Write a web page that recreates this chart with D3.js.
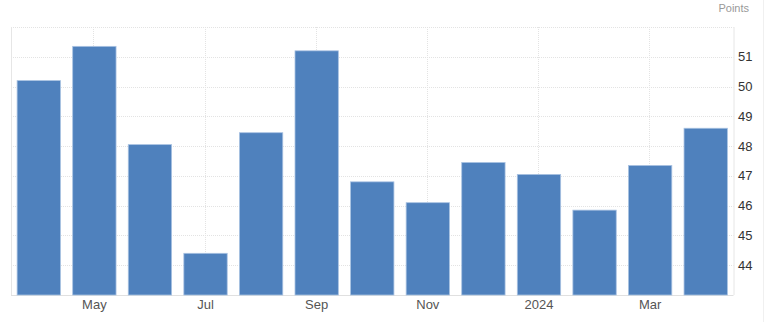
<!DOCTYPE html>
<meta charset="utf-8">
<style>
body { margin: 0; background: #fff; }
svg { font-family: "Liberation Sans", Arial, sans-serif; }
.grid line { stroke: #e3e3e3; stroke-dasharray: 1,1; }
.ylab text { fill: #333; font-size: 13px; }
.xlab text { fill: #555; font-size: 13px; }
</style>
<svg width="768" height="322"></svg>
<script src="https://d3js.org/d3.v7.min.js"></script>
<script>

var months = ["Apr", "May", "Jun", "Jul", "Aug", "Sep", "Oct", "Nov", "Dec", "2024", "Feb", "Mar", "Apr24"];
var values = [50.2, 51.35, 48.05, 44.4, 48.45, 51.2, 46.8, 46.1, 47.45, 47.05, 45.85, 47.35, 48.6];
var xTicks = ["May", "Jul", "Sep", "Nov", "2024", "Mar"];
var yTicks = [44, 45, 46, 47, 48, 49, 50, 51];

var svg = d3.select("svg"),
    plotLeft = 11, plotRight = 733.5, plotTop = 27, plotBottom = 295;

var x = d3.scaleBand()
    .domain(months)
    .range([plotLeft, plotRight])
    .paddingInner(0.22)
    .paddingOuter(0.11);

var y = d3.scaleLinear()
    .domain([43, 52])
    .range([plotBottom, plotTop]);

// grid
var grid = svg.append("g").attr("class", "grid");
grid.selectAll(".h")
  .data(yTicks.concat([52]))
  .enter().append("line")
    .attr("x1", plotLeft).attr("x2", plotRight)
    .attr("y1", function(d) { return Math.round(y(d)) + 0.5; })
    .attr("y2", function(d) { return Math.round(y(d)) + 0.5; });
grid.selectAll(".v")
  .data(xTicks)
  .enter().append("line")
    .attr("x1", function(d) { return Math.round(x(d) + x.bandwidth() / 2) - 0.5; })
    .attr("x2", function(d) { return Math.round(x(d) + x.bandwidth() / 2) - 0.5; })
    .attr("y1", plotTop).attr("y2", plotBottom);

// frame lines
svg.append("line")
    .attr("x1", plotLeft + 0.5).attr("x2", plotLeft + 0.5)
    .attr("y1", plotTop).attr("y2", plotBottom)
    .attr("stroke", "#e6e6e6");
svg.append("line")
    .attr("x1", plotRight + 0.5).attr("x2", plotRight + 0.5)
    .attr("y1", plotTop).attr("y2", plotBottom)
    .attr("stroke", "#e6e6e6");
svg.append("line")
    .attr("x1", plotLeft).attr("x2", plotRight)
    .attr("y1", plotBottom + 0.5).attr("y2", plotBottom + 0.5)
    .attr("stroke", "#e0e0e0");
svg.append("line")
    .attr("x1", 763.5).attr("x2", 763.5)
    .attr("y1", 0).attr("y2", 322)
    .attr("stroke", "#f0f0f0");

// bars
svg.append("g")
  .selectAll("rect")
  .data(values)
  .enter().append("rect")
    .attr("x", function(d, i) { return x(months[i]); })
    .attr("y", function(d) { return y(d); })
    .attr("width", x.bandwidth())
    .attr("height", function(d) { return plotBottom - y(d); })
    .attr("fill", "#4f81bd")
    .attr("stroke", "#a9c2e2")
    .attr("stroke-width", 0.8);

// y labels
svg.append("g").attr("class", "ylab")
  .selectAll("text")
  .data(yTicks)
  .enter().append("text")
    .attr("x", 738)
    .attr("y", function(d) { return y(d) + 4.5; })
    .text(function(d) { return d; });

// x labels
svg.append("g").attr("class", "xlab")
  .selectAll("text")
  .data(xTicks)
  .enter().append("text")
    .attr("x", function(d) { return x(d) + x.bandwidth() / 2; })
    .attr("y", 309)
    .attr("text-anchor", "middle")
    .text(function(d) { return d; });

svg.append("text")
    .attr("x", 749)
    .attr("y", 12)
    .attr("text-anchor", "end")
    .attr("fill", "#999")
    .attr("font-size", "11px")
    .text("Points");

</script>
